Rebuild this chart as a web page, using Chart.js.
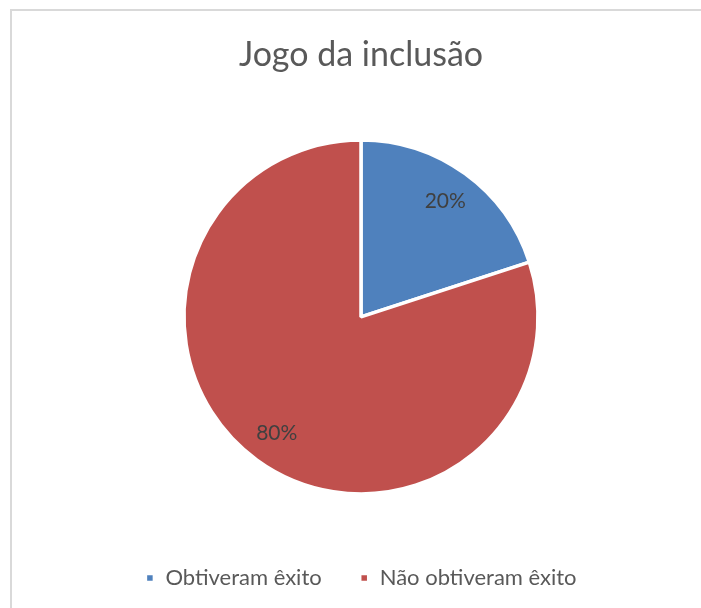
<!DOCTYPE html>
<html>
<head>
<meta charset="utf-8">
<script src="https://cdn.jsdelivr.net/npm/chart.js@4.4.0/dist/chart.umd.min.js"></script>
<style>
  html, body { margin: 0; padding: 0; background: #fff; overflow: hidden; }
  #frame {
    position: absolute; left: 10px; top: 9px; width: 720px; height: 640px;
    border: 2px solid #d9d9d9; box-sizing: border-box;
  }
  #wrap { position: absolute; left: 0; top: 0; width: 701px; height: 608px; }
</style>
</head>
<body>
<div id="frame"></div>
<div id="wrap"><canvas id="chart"></canvas></div>
<script>
// dados do gráfico
const categorias = ['Obtiveram êxito', 'Não obtiveram êxito'];
const valores = [20, 80];
const cores = ['#4f81bd', '#c0504d'];
const titulo = 'Jogo da inclusão';
const FONTE = 'Lato, "Open Sans", sans-serif';

// rótulos de porcentagem dentro das fatias
const rotulosPlugin = {
  id: 'rotulos',
  afterDatasetsDraw(chart) {
    const ctx = chart.ctx;
    const meta = chart.getDatasetMeta(0);
    const total = valores.reduce((a, b) => a + b, 0);
    ctx.save();
    ctx.font = '21px ' + FONTE;
    ctx.fillStyle = '#404040';
    ctx.textAlign = 'center';
    ctx.textBaseline = 'middle';
    meta.data.forEach((arc, i) => {
      const ang = (arc.startAngle + arc.endAngle) / 2;
      const r = arc.outerRadius * 0.81;
      const x = arc.x + Math.cos(ang) * r;
      const y = arc.y + Math.sin(ang) * r;
      ctx.fillText(Math.round(valores[i] / total * 100) + '%', x, y);
    });
    ctx.restore();
  }
};

new Chart(document.getElementById('chart'), {
  type: 'pie',
  data: {
    labels: categorias,
    datasets: [{
      data: valores,
      backgroundColor: cores,
      borderColor: '#ffffff',
      borderWidth: 3.5,
      radius: 177
    }]
  },
  options: {
    responsive: true,
    maintainAspectRatio: false,
    animation: false,
    layout: { padding: { left: 21, right: 0, top: 0, bottom: 9 } },
    plugins: {
      title: {
        display: true,
        text: titulo,
        color: '#595959',
        font: { family: FONTE, size: 34, weight: 'normal' },
        padding: { top: 35, bottom: 29 }
      },
      legend: {
        position: 'bottom',
        labels: {
          color: '#595959',
          font: { family: FONTE, size: 22 },
          boxWidth: 9,
          boxHeight: 9,
          padding: 38
        }
      },
      tooltip: { enabled: false }
    }
  },
  plugins: [rotulosPlugin]
});
</script>
</body>
</html>
